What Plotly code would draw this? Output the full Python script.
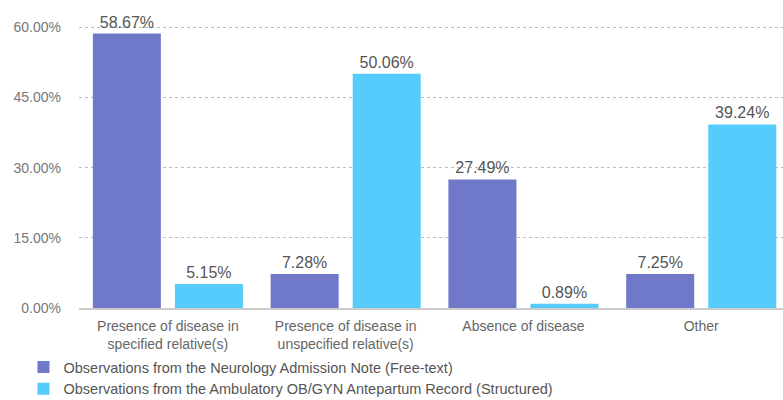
import plotly.graph_objects as go

categories = ["Presence of disease in<br>specified relative(s)",
              "Presence of disease in<br>unspecified relative(s)",
              "Absence of disease",
              "Other"]
series_names = ["Observations from the Neurology Admission Note (Free-text)",
                "Observations from the Ambulatory OB/GYN Antepartum Record (Structured)"]
neuro = [58.67, 7.28, 27.49, 7.25]
obgyn = [5.15, 50.06, 0.89, 39.24]
tick_vals = [0, 15, 30, 45, 60]
colors = ["#7078C9", "#55CCFB"]

fig = go.Figure()
for name, vals, col in zip(series_names, [neuro, obgyn], colors):
    fig.add_trace(go.Bar(
        x=categories, y=vals, name=name, marker_color=col, marker_line_width=0,
        text=[f"{v:.2f}%" for v in vals], textposition="outside", cliponaxis=False,
        textfont=dict(size=16, color="#555555"),
    ))

fig.update_layout(
    width=783, height=400,
    margin=dict(l=79, r=0, t=18, b=92, autoexpand=False),
    plot_bgcolor="white", paper_bgcolor="white",
    font=dict(family="Liberation Sans, Arial, sans-serif", color="#666666"),
    barmode="group", bargap=0.077, bargroupgap=0.171,
    showlegend=True,
    legend=dict(orientation="v", xref="container", yref="container",
                x=0.03, y=0.055, xanchor="left", yanchor="middle",
                bgcolor="rgba(0,0,0,0)",
                font=dict(size=14.5, color="#555555"), tracegroupgap=0,
                itemwidth=30),
)
fig.update_yaxes(range=[0, 62], tickvals=tick_vals,
                 ticktext=[f"{v:.2f}%" for v in tick_vals],
                 showgrid=True, gridcolor="#BBBBBB", griddash="dot", gridwidth=1,
                 zeroline=False, showline=False, ticks="", tickfont=dict(size=14, color="#777777"),
                 ticklabelstandoff=17, automargin=False)
fig.update_xaxes(range=[-0.5, 3.46], showline=True, linecolor="#CCCCCC", linewidth=1.5,
                 ticks="", tickangle=0, ticklabelstandoff=4,
                 tickfont=dict(size=14, color="#666666"), automargin=False)
fig.write_html("out.html")
